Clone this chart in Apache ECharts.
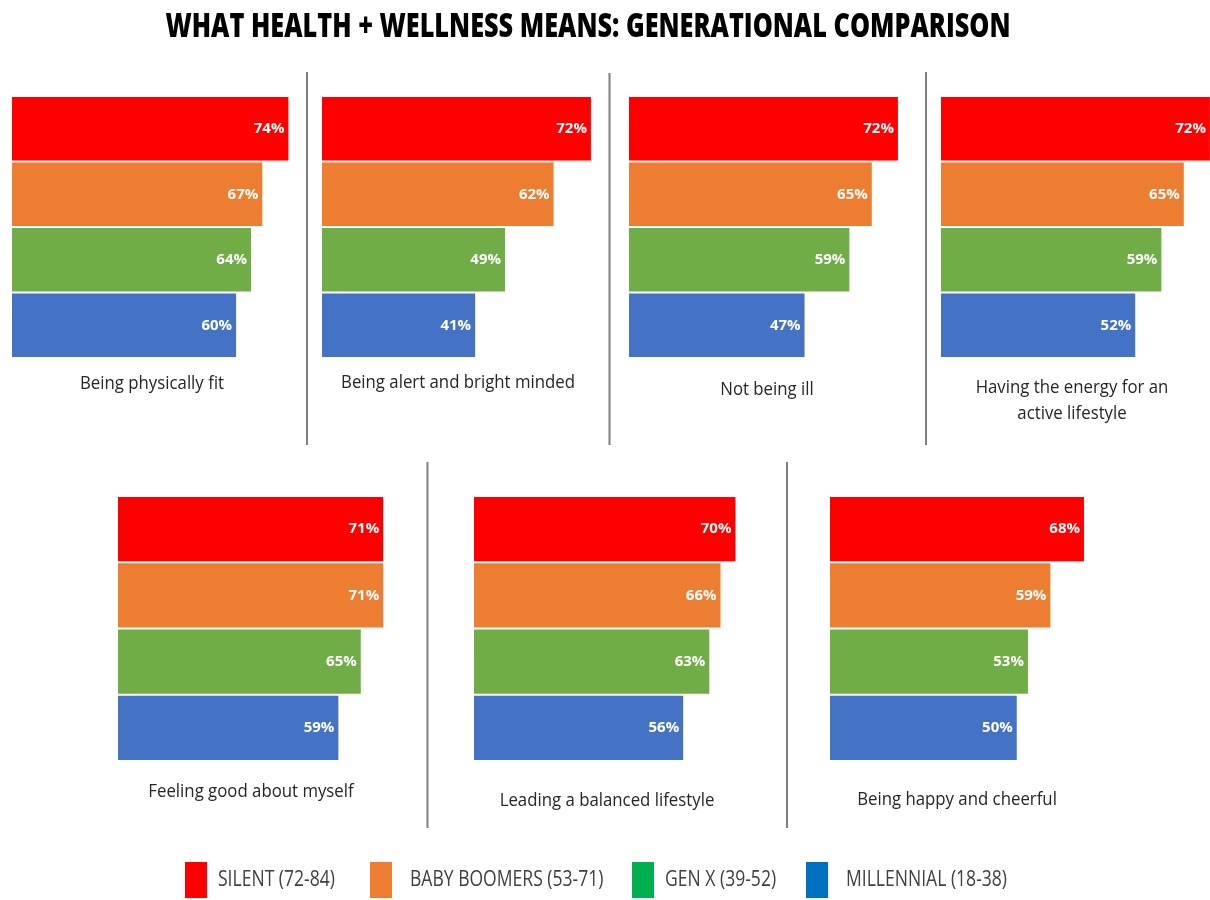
<!DOCTYPE html>
<html>
<head>
<meta charset="utf-8">
<title>What Health + Wellness Means: Generational Comparison</title>
<script src="https://cdn.jsdelivr.net/npm/echarts@6/dist/echarts.min.js"></script>
<style>
  html, body { margin: 0; padding: 0; background: #ffffff; }
  #chart { width: 1210px; height: 900px; }
</style>
</head>
<body>
<div id="chart"></div>
<script>
// ---- data ----
const chartTitle = 'WHAT HEALTH + WELLNESS MEANS: GENERATIONAL COMPARISON';
const categories = [
  'Being physically fit',
  'Being alert and bright minded',
  'Not being ill',
  'Having the energy for an\nactive lifestyle',
  'Feeling good about myself',
  'Leading a balanced lifestyle',
  'Being happy and cheerful'
];
const generations = ['SILENT (72-84)', 'BABY BOOMERS (53-71)', 'GEN X (39-52)', 'MILLENNIAL (18-38)'];
const silent      = [74, 72, 72, 72, 71, 70, 68];
const babyBoomers = [67, 62, 65, 65, 71, 66, 59];
const genX        = [64, 49, 59, 59, 65, 63, 53];
const millennial  = [60, 41, 47, 52, 59, 56, 50];
const valueSuffix = '%';

// ---- styling / layout ----
const seriesValues = [silent, babyBoomers, genX, millennial];
const barColors    = ['#FF0000', '#ED7D31', '#70AD47', '#4472C4'];
const legendColors = ['#FF0000', '#ED7D31', '#00B050', '#0070C0'];
const textFont = '"Open Sans", "Liberation Sans", sans-serif';

// each small panel: left edge of its bars, top and height of the bar block,
// and the anchor of its caption
const panels = [
  { left: 12,  top: 96,  height: 262, labelX: 152,  labelY: 384 },
  { left: 322, top: 96,  height: 262, labelX: 458,  labelY: 383 },
  { left: 629, top: 96,  height: 262, labelX: 767,  labelY: 390 },
  { left: 941, top: 96,  height: 262, labelX: 1072, labelY: 401 },
  { left: 118, top: 496, height: 265, labelX: 251,  labelY: 792 },
  { left: 474, top: 496, height: 265, labelX: 607,  labelY: 801 },
  { left: 830, top: 496, height: 265, labelX: 957,  labelY: 800 }
];
const axisMax = 100;
const pxPerPoint = 3.735;
const legendLefts = [185, 370, 632, 806];
const legendTextLefts = [218, 410, 665, 846];
const legendTop = 862;
const separators = [
  [307, 72, 445], [609.5, 73, 445], [926, 72, 445],
  [427.5, 462, 828], [787, 462, 828]
];

// the lettering is set in a horizontally squeezed face
const measureCtx = document.createElement('canvas').getContext('2d');
function textWidth(text, font) {
  measureCtx.font = font;
  return measureCtx.measureText(text).width;
}
const titleFont = '800 33px "Open Sans"';
const titleScale = 845 / textWidth(chartTitle, titleFont);
const captionFont = '18px "Open Sans"';
const captionScale = 144 / textWidth(categories[0], captionFont);
const legendFont = '22px "Open Sans"';
const legendScale = 117 / textWidth(generations[0], legendFont);

// ---- build option ----
const grids = [], xAxes = [], yAxes = [], series = [];
panels.forEach((p, pi) => {
  grids.push({
    left: p.left, top: p.top, width: axisMax * pxPerPoint, height: p.height,
    containLabel: false, outerBoundsMode: 'none'
  });
  xAxes.push({ type: 'value', gridIndex: pi, min: 0, max: axisMax, show: false });
  yAxes.push({ type: 'category', gridIndex: pi, inverse: true, data: generations, show: false });
  seriesValues.forEach((vals, gi) => {
    series.push({
      type: 'bar',
      name: generations[gi],
      xAxisIndex: pi,
      yAxisIndex: pi,
      barGap: '-100%',
      barCategoryGap: '3%',
      itemStyle: { color: barColors[gi] },
      data: generations.map((_, k) => (k === gi ? vals[pi] : '-')),
      label: {
        show: true,
        position: 'insideRight',
        distance: 4,
        color: '#ffffff',
        fontWeight: 'bold',
        fontSize: 15,
        fontFamily: textFont,
        formatter: (d) => d.value + valueSuffix
      },
      emphasis: { disabled: true },
      animation: false
    });
  });
});

const graphics = [];
graphics.push({
  type: 'text', x: 588, y: 28, scaleX: titleScale,
  style: { text: chartTitle, font: titleFont, fill: '#000000', align: 'center', verticalAlign: 'middle' }
});
panels.forEach((p, pi) => {
  graphics.push({
    type: 'text', x: p.labelX, y: p.labelY, scaleX: captionScale,
    style: {
      text: categories[pi], font: captionFont, fill: '#262626',
      align: 'center', verticalAlign: 'middle', lineHeight: 26
    }
  });
});
// legend names, squeezed to the same face as the captions
generations.forEach((name, i) => {
  graphics.push({
    type: 'text', x: legendTextLefts[i], y: legendTop + 18, scaleX: legendScale,
    style: { text: name, font: legendFont, fill: '#404040', align: 'left', verticalAlign: 'middle' }
  });
});
separators.forEach(([x, y1, y2]) => {
  graphics.push({
    type: 'line',
    shape: { x1: x, y1: y1, x2: x, y2: y2 },
    style: { stroke: '#7f7f7f', lineWidth: 2 }
  });
});

// legend swatches (names are drawn above as squeezed text)
const legends = generations.map((name, i) => ({
  data: [{ name: name, itemStyle: { color: legendColors[i] } }],
  left: legendLefts[i],
  top: legendTop,
  padding: 0,
  icon: 'rect',
  itemWidth: 22,
  itemHeight: 36,
  selectedMode: false,
  formatter: () => '',
  textStyle: { fontSize: 1 }
}));

const chart = echarts.init(document.getElementById('chart'), null, { renderer: 'canvas' });
chart.setOption({
  backgroundColor: '#ffffff',
  animation: false,
  tooltip: { show: false },
  grid: grids,
  xAxis: xAxes,
  yAxis: yAxes,
  legend: legends,
  series: series,
  graphic: graphics
});
</script>
</body>
</html>
